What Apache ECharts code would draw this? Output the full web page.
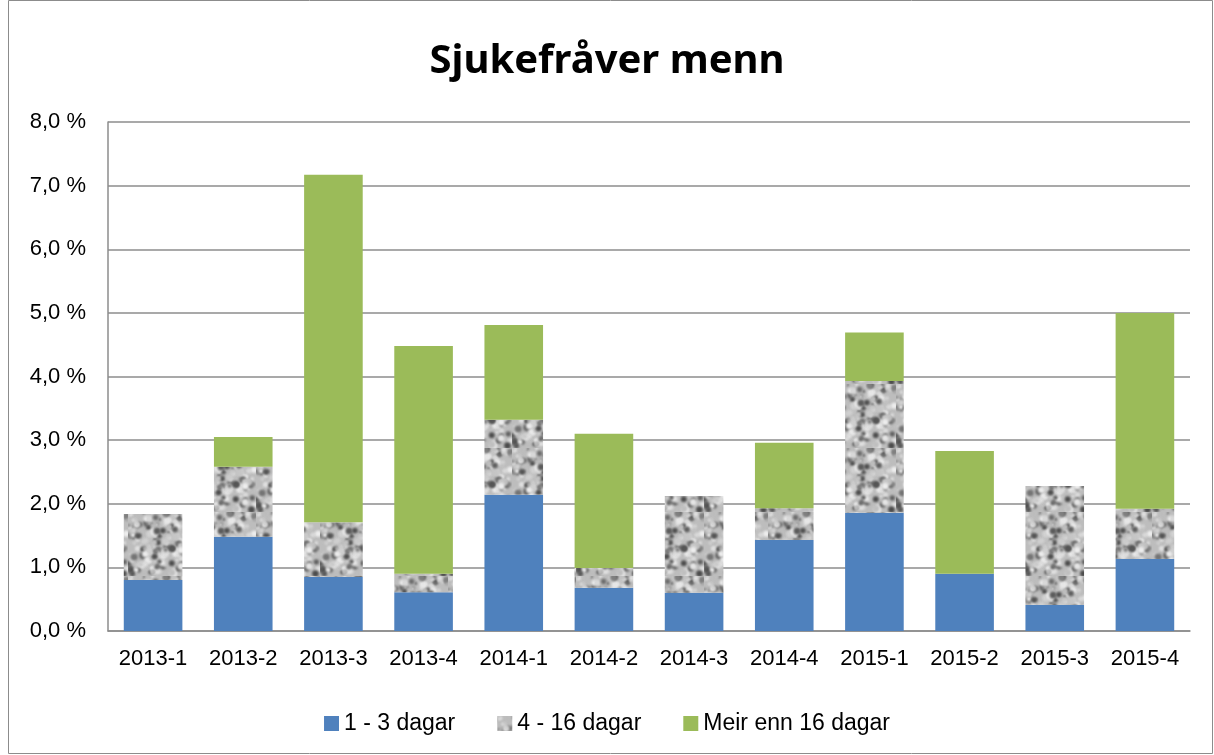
<!DOCTYPE html>
<html>
<head>
<meta charset="utf-8">
<script src="https://cdn.jsdelivr.net/npm/echarts@6/dist/echarts.min.js"></script>
<style>
  html, body { margin: 0; padding: 0; background: #fff; }
  #chart { width: 1214px; height: 755px; }
</style>
</head>
<body>
<div id="chart"></div>
<script>
const quarters = ['2013-1', '2013-2', '2013-3', '2013-4', '2014-1', '2014-2', '2014-3', '2014-4', '2015-1', '2015-2', '2015-3', '2015-4']
const short = [0.80, 1.48, 0.85, 0.61, 2.14, 0.68, 0.60, 1.43, 1.86, 0.90, 0.41, 1.13]
const medium = [1.04, 1.10, 0.86, 0.29, 1.18, 0.31, 1.52, 0.50, 2.07, 0.00, 1.87, 0.79]
const long = [0.00, 0.47, 5.46, 3.58, 1.49, 2.11, 0.00, 1.03, 0.76, 1.93, 0.00, 3.08]
const seriesNames = ['1 - 3 dagar', '4 - 16 dagar', 'Meir enn 16 dagar']

// granite-like grey texture for the middle series (deterministic hash, no data involved)
function granite() {
  const c = document.createElement('canvas')
  c.width = 64; c.height = 64
  const ctx = c.getContext('2d')
  ctx.fillStyle = '#bdbdbd'
  ctx.fillRect(0, 0, 64, 64)
  const h = n => { const s = Math.sin(n * 127.1) * 43758.5453; return s - Math.floor(s) }
  ctx.filter = 'blur(1px)'
  for (let i = 0; i < 220; i++) {
    const x = h(i + 1) * 64, y = h(i + 500) * 64, r = 1.2 + h(i + 900) * 2.4
    const g = h(i + 1300) < 0.35 ? Math.floor(70 + h(i + 1700) * 60) : Math.floor(190 + h(i + 2100) * 50)
    ctx.fillStyle = 'rgb(' + g + ',' + g + ',' + g + ')'
    ctx.beginPath(); ctx.arc(x, y, r, 0, Math.PI * 2); ctx.fill()
  }
  return c
}

const chart = echarts.init(document.getElementById('chart'))
const font = 'Liberation Sans, Arial, sans-serif'

chart.setOption({
  animation: false,
  title: {
    text: 'Sjukefråver menn',
    left: 'center',
    top: 37,
    textStyle: { fontFamily: 'Noto Sans, sans-serif', fontSize: 40, fontWeight: 'bold', color: '#000' }
  },
  legend: {
    bottom: 15,
    left: 'center',
    icon: 'rect',
    itemWidth: 15,
    itemHeight: 15,
    itemGap: 42,
    textStyle: { fontFamily: font, fontSize: 23, color: '#000' },
    data: seriesNames
  },
  graphic: [{
    type: 'rect',
    shape: { x: 8.5, y: 0.5, width: 1204, height: 753 },
    style: { fill: 'none', stroke: '#8c8c8c', lineWidth: 1 }
  }],
  grid: { left: 108, right: 24, top: 122, bottom: 124 },
  xAxis: {
    type: 'category',
    data: quarters,
    axisLine: { lineStyle: { color: '#8c8c8c', width: 1.5 } },
    axisTick: { show: false },
    axisLabel: { fontFamily: font, fontSize: 22, color: '#000', margin: 17 }
  },
  yAxis: {
    type: 'value',
    min: 0,
    max: 8,
    interval: 1,
    axisLine: { show: true, lineStyle: { color: '#8c8c8c', width: 1.5 } },
    axisTick: { show: false },
    splitLine: { lineStyle: { color: '#8c8c8c', width: 1.5 } },
    axisLabel: {
      fontFamily: font, fontSize: 22, color: '#000', margin: 22,
      formatter: v => v.toFixed(1).replace('.', ',') + ' %'
    }
  },
  series: [
    { name: seriesNames[0], type: 'bar', stack: 'a', barCategoryGap: '35%', data: short, itemStyle: { color: '#4f81bd' } },
    { name: seriesNames[1], type: 'bar', stack: 'a', data: medium, itemStyle: { color: { image: granite(), repeat: 'repeat' } } },
    { name: seriesNames[2], type: 'bar', stack: 'a', data: long, itemStyle: { color: '#9bbb59' } }
  ]
})
</script>
</body>
</html>
